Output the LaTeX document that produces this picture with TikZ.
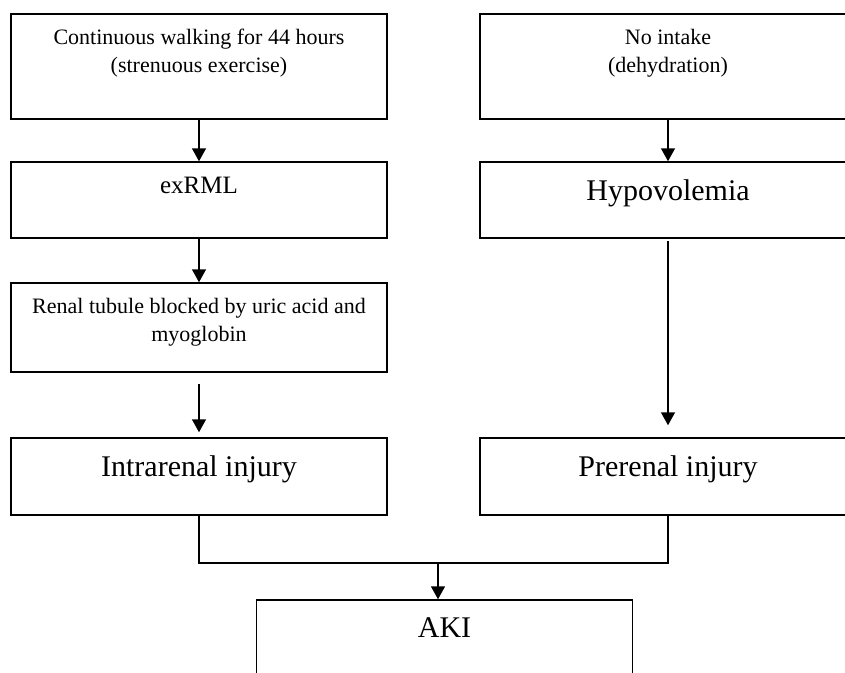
\documentclass[tikz,border=0pt]{standalone}
\usepackage{fontspec}
\setmainfont{Liberation Serif}
\usetikzlibrary{arrows.meta}

\tikzset{
  box/.style={draw, line width=1.5pt, minimum width=376pt, minimum height=#1, inner sep=0pt},
  small/.style={font=\fontsize{22}{28}\selectfont, align=center, inner sep=0pt, below=16pt},
  big/.style={font=\fontsize{30}{36}\selectfont, inner sep=0pt, below=18pt},
  line/.style={line width=1.5pt},
  arr/.style={line, -{Triangle[width=14pt,length=13pt]}}
}

\begin{document}
\begin{tikzpicture}[x=1pt, y=-1pt]
        \useasboundingbox (0,0) rectangle (845,672);

        % Left column: exercise path
        \node[box=105pt, label={[small]north:{Continuous walking for 44 hours\\(strenuous exercise)}}] (walk) at (199,66.5) {};
        \node[box=76pt, label={[small, font=\fontsize{25}{30}\selectfont]north:exRML}] (exrml) at (199,200) {};
        \node[box=89pt, label={[small]north:{Renal tubule blocked by uric acid and\\myoglobin}}] (tubule) at (199,327.5) {};
        \node[box=77pt, label={[big]north:Intrarenal injury}] (intra) at (199,476.5) {};

        % Right column: intake path
        \node[box=105pt, label={[small]north:{No intake\\(dehydration)}}] (intake) at (668,66.5) {};
        \node[box=76pt, label={[big]north:Hypovolemia}] (hypo) at (668,200) {};
        \node[box=77pt, label={[big]north:Prerenal injury}] (pre) at (668,476.5) {};

        % AKI at the bottom
        \node[box=90pt, label={[big]north:AKI}] (aki) at (444.5,645) {};
        \coordinate (join) at (438,563);

        % Arrows down each column
        \draw[arr] (walk.south) -- (exrml.north);
        \draw[arr] (exrml.south) -- (tubule.north);
        \draw[arr, shorten <=11pt, shorten >=5pt] (tubule.south) -- (intra.north);
        \draw[arr] (intake.south) -- (hypo.north);
        \draw[arr, shorten <=2pt, shorten >=12pt] (hypo.south) -- (pre.north);

        % Both injuries joined into AKI
        \draw[line] (intra.south) -- (intra.south |- join) -- (pre.south |- join) -- (pre.south);
        \draw[arr] (join) -- (join |- aki.north);
    \end{tikzpicture}
\end{document}
